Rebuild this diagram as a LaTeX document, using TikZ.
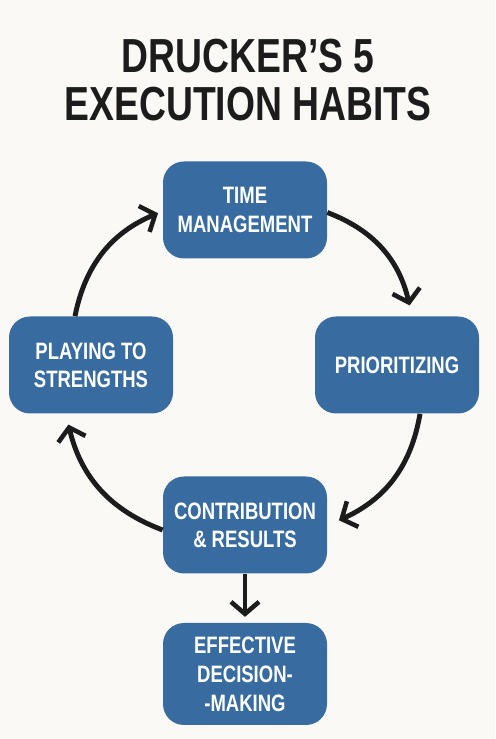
\documentclass[tikz,border=0pt]{standalone}
\usepackage{fontspec}
\setmainfont{Liberation Sans}[FakeStretch=0.78]
\usepackage{xcolor}
\usepackage{tikz}
\usetikzlibrary{arrows.meta,positioning}
\definecolor{habit}{RGB}{56,108,160}
\definecolor{ink}{RGB}{28,28,28}
\definecolor{paper}{RGB}{251,249,245}

\begin{document}
\begin{tikzpicture}[x=1cm,y=1cm,>=Stealth]
\tikzset{hb/.style={fill=habit,draw=none,rounded corners=0.42cm,minimum width=3.28cm,minimum height=1.94cm,align=center,text=white,font=\fontsize{13.5}{16}\selectfont\bfseries},
  arr/.style={-{Straight Barb[length=2.4mm,width=5.6mm,line width=2.6pt]},line width=2.8pt,draw=ink,shorten >=1pt}}
\fill[paper] (0,0) rectangle (9.9,14.78);
\node[text=ink,align=center,font=\fontsize{27.2}{27}\selectfont\bfseries] (title) at (4.96,13.18) {DRUCKER’S 5\\EXECUTION HABITS};
\node[hb] (time) at (4.9,10.58) {TIME\\MANAGEMENT};
\node[hb] (prio) at (7.94,7.48) {PRIORITIZING};
\node[hb] (contrib) at (4.9,4.28) {CONTRIBUTION\\\& RESULTS};
\node[hb] (play) at (1.82,7.48) {PLAYING TO\\STRENGTHS};
\node[hb,minimum height=2.04cm,font=\fontsize{13.5}{16.5}\selectfont\bfseries] (eff) at (4.9,1.3) {EFFECTIVE\\DECISION-\\-MAKING};
\draw[arr] ([xshift=-0.32cm]play.north) to[bend left=28] ([yshift=-0.05cm,xshift=-0.06cm]time.west);
\draw[arr] ([yshift=-0.05cm]time.east) to[bend left=28] ([xshift=0.26cm,yshift=0.18cm]prio.north);
\draw[arr] ([xshift=0.46cm]prio.south) to[bend left=28] ([xshift=0.2cm,yshift=0.08cm]contrib.east);
\draw[arr] ([yshift=-0.1cm]contrib.west) to[bend left=28] ([xshift=-0.46cm,yshift=-0.18cm]play.south);
\draw[arr] (contrib.south) -- ([yshift=0.08cm]eff.north);
\end{tikzpicture}
\end{document}
